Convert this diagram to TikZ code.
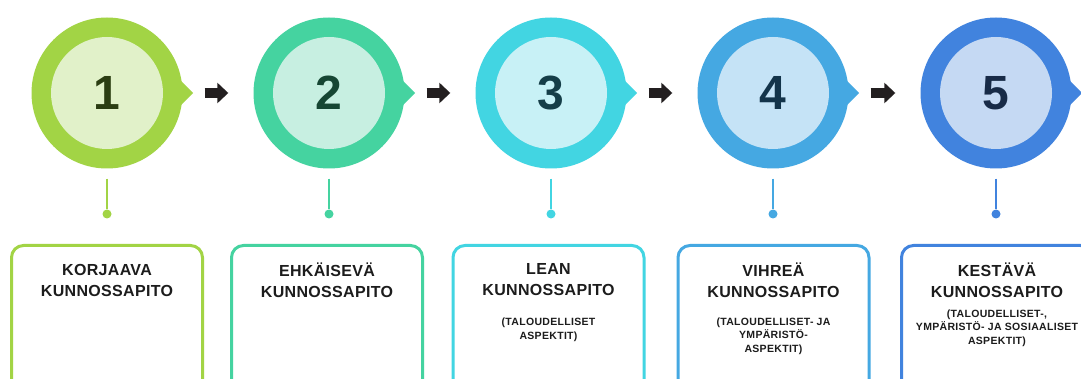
\documentclass[tikz,border=0pt]{standalone}
\usepackage{fontspec}
\setmainfont{Liberation Sans}
\newfontfamily\titlefam[LetterSpace=2]{Liberation Sans}
\newfontfamily\subfam[LetterSpace=3]{Liberation Sans}
\usetikzlibrary{arrows.meta}
\definecolor{o1}{HTML}{A2D445}
\definecolor{i1}{HTML}{E1F1C9}
\definecolor{t1}{HTML}{2B3D12}
\definecolor{o2}{HTML}{45D3A0}
\definecolor{i2}{HTML}{C7EFE1}
\definecolor{t2}{HTML}{164633}
\definecolor{o3}{HTML}{42D5E2}
\definecolor{i3}{HTML}{C8F1F6}
\definecolor{t3}{HTML}{153E48}
\definecolor{o4}{HTML}{45A8E2}
\definecolor{i4}{HTML}{C5E3F6}
\definecolor{t4}{HTML}{13344A}
\definecolor{o5}{HTML}{4183DE}
\definecolor{i5}{HTML}{C5D9F3}
\definecolor{t5}{HTML}{182B47}
\definecolor{ink}{HTML}{1C1C1C}
\definecolor{arr}{HTML}{231F20}
\newcommand\mystage[4]{%
  \node[outer, fill=o#1] (c#1) at (#2,93) {};
  \fill[o#1] (c#1.center) ++(60,-26) -- ++(26,26) -- ++(-26,26) -- cycle;
  \node[inner, fill=i#1, text=t#1] (n#1) at (c#1.center) {#1};
  \node[dot, fill=o#1] (d#1) at (#2,214) {};
  \draw[stem, o#1] (c#1.south) -- (d#1);
  \node[box, draw=o#1] (b#1) at (#3,244) {};
  \node[title] (h#1) at (#3,280) {#4};
}
\begin{document}
\begin{tikzpicture}[x=1pt,y=-1pt,
  outer/.style={circle, inner sep=0pt, minimum size=151pt},
  inner/.style={circle, inner sep=0pt, minimum size=112pt, font=\fontsize{48}{48}\selectfont\bfseries},
  dot/.style={circle, inner sep=0pt, minimum size=9pt},
  stem/.style={line width=2pt, shorten <=10pt},
  box/.style={rectangle, rounded corners=12pt, line width=3pt, anchor=north, minimum width=191pt, minimum height=170pt, fill=white},
  title/.style={align=center, text=ink, font=\titlefam\fontsize{16}{21}\selectfont\bfseries},
  sub/.style={align=center, text=ink, font=\subfam\fontsize{10.5}{13.5}\selectfont\bfseries},
  flow/.style={arr, line width=10pt, shorten <=22pt, shorten >=25pt, -{Triangle[length=11pt,width=20pt]}}
]
\useasboundingbox (0,0) rectangle (1081,379);
\clip (0,0) rectangle (1081,379);
\fill[white] (0,0) rectangle (1081,379);
\mystage{1}{107}{107}{KORJAAVA\\KUNNOSSAPITO}
\mystage{2}{329}{327}{EHKÄISEVÄ\\KUNNOSSAPITO}
\mystage{3}{551}{548.5}{LEAN\\KUNNOSSAPITO}
\mystage{4}{773}{773.5}{VIHREÄ\\KUNNOSSAPITO}
\mystage{5}{996}{997}{KESTÄVÄ\\KUNNOSSAPITO}
\node[sub] (s3) at (548.5,330) {(TALOUDELLISET\\ASPEKTIT)};
\node[sub] (s4) at (773.5,336) {(TALOUDELLISET- JA\\YMPÄRISTÖ-\\ASPEKTIT)};
\node[sub] (s5) at (997,328) {(TALOUDELLISET-,\\YMPÄRISTÖ- JA SOSIAALISET\\ASPEKTIT)};
\draw[flow] (c1.east) -- (c2.west);
\draw[flow] (c2.east) -- (c3.west);
\draw[flow] (c3.east) -- (c4.west);
\draw[flow] (c4.east) -- (c5.west);
\end{tikzpicture}
\end{document}
